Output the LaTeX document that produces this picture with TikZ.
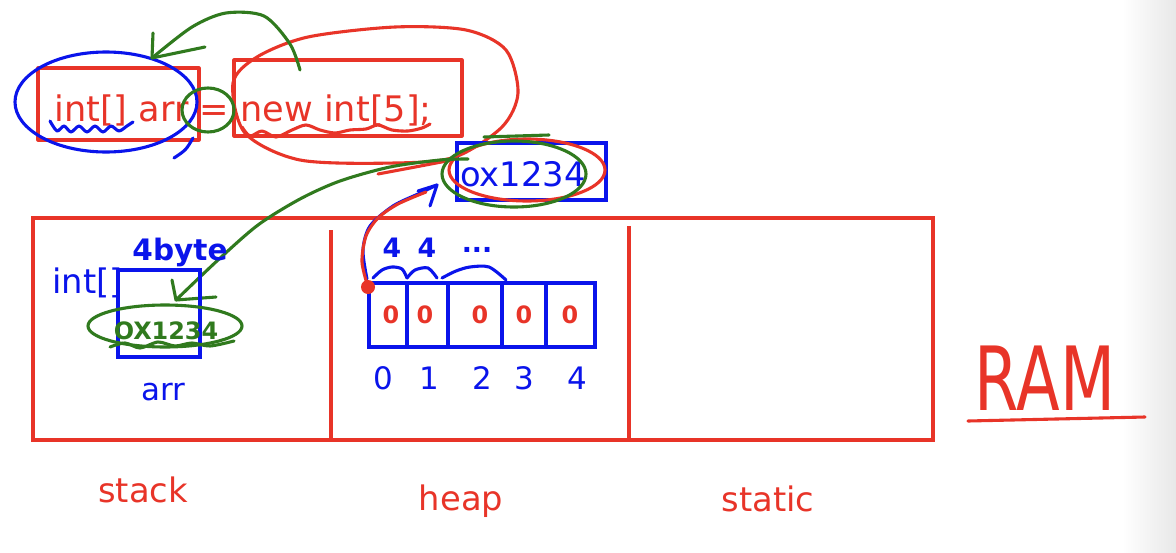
\documentclass[tikz,border=0pt]{standalone}
\usepackage{fontspec}
\setmainfont{DejaVu Sans}
\usetikzlibrary{calc}

\definecolor{penred}{RGB}{232,52,40}
\definecolor{penblue}{RGB}{10,20,235}
\definecolor{pengreen}{RGB}{48,122,30}

\begin{document}
\begin{tikzpicture}[
    x=0.025cm, y=-0.025cm,
    pen/.style={line width=2.2pt, line cap=round, line join=round},
    red pen/.style={pen, penred},
    blue pen/.style={pen, penblue},
    green pen/.style={pen, pengreen},
    frame line/.style={line width=2.2pt, penred},
    typed/.style={inner sep=0pt, font=\fontsize{24}{28}\selectfont},
    scribble/.style={inner sep=0pt, font=\fontsize{#1}{#1}\selectfont},
    scribble/.default=20,
    bold scribble/.style={inner sep=0pt, font=\fontsize{#1}{#1}\selectfont\bfseries},
    bold scribble/.default=20,
]

\useasboundingbox (0,0) rectangle (1176,552);
\fill[white] (0,0) rectangle (1176,552);
\shade[left color=white, right color=black!9] (1122,0) rectangle (1176,552);

% =============================================================================
% Memory: stack | heap | static
% =============================================================================
\draw[frame line] (33,218) rectangle (933,440);
\draw[frame line] (331,230) -- (331,440);
\draw[frame line] (629,226) -- (629,440);

\node[typed, text=penred, anchor=base] (stacklbl)  at (143,502) {stack};
\node[typed, text=penred, anchor=base] (heaplbl)   at (461,510) {heap};
\node[typed, text=penred, anchor=base] (staticlbl) at (768,511) {static};

% --- RAM ---
\node[text=penred, inner sep=0pt] (ramlbl) at (1045,378)
    {\scalebox{0.72}[1]{\fontsize{63}{70}\selectfont RAM}};
\draw[red pen] (968,421) -- (1145,417);

% =============================================================================
% The statement
% =============================================================================
\node[typed, text=penred, anchor=base west, font=\fontsize{25}{29}\selectfont]
    (code) at (54,121) {int[] arr = new int[5];};

% --- boxes round both sides ---
\draw[red pen] (38,68) rectangle (199,140);
\draw[red pen] (234,60) rectangle (462,136);

% --- left side ---
\draw[blue pen] (106,102) ellipse [x radius=91, y radius=50];
\draw[blue pen] (174,158) .. controls (186,150) .. (193,138);
\draw[blue pen] plot[smooth] coordinates {(50,121) (57,131) (64,126) (71,132)
    (79,126) (87,132) (95,126) (103,132) (111,126) (119,131) (127,126) (133,122)};

% --- right side ---
\draw[red pen] plot[smooth] coordinates {(242,127) (250,136) (262,131) (276,137)
    (292,130) (306,125) (320,130) (335,133) (350,130) (366,129) (378,125)
    (392,130) (408,131) (422,128) (430,124)};
\draw[red pen] plot[smooth cycle] coordinates {(233,83) (245,133) (300,160)
    (395,163) (455,157) (502,127) (518,93) (506,50) (466,30) (395,27)
    (308,37) (257,57)};

% --- the "=" ---
\draw[green pen] (208,110) ellipse [x radius=26, y radius=22];

% --- right side goes into the left side ---
\coordinate (rhstop) at (300,70);
\coordinate (lhstip) at (152,58);
\draw[green pen] plot[smooth] coordinates {(rhstop) (290,44) (264,16) (226,13)
    (192,27) (lhstip)};
\draw[green pen] (153,33) -- (lhstip) -- (205,47);

% =============================================================================
% The address
% =============================================================================
\node[draw=penblue, line width=2.2pt, inner sep=0pt,
      minimum width=149*0.025cm, minimum height=57*0.025cm]
    (addr) at (531.5,171.5) {};
\node[typed, text=penblue, anchor=base west] (addrtxt) at (460,186) {ox1234};

\draw[red pen] (378,174) .. controls (410,168) .. (452,160);
\draw[red pen] (527,170) ellipse [x radius=78, y radius=31];
\draw[green pen] (514,174) ellipse [x radius=72, y radius=33];
\draw[green pen] (484,137) -- (549,135);

% --- address copied into the stack slot ---
\coordinate (addrleft) at (468,159);
\coordinate (slottip) at (176,300);
\draw[green pen] plot[smooth] coordinates {(addrleft) (440,160) (390,167)
    (340,181) (300,199) (258,225) (218,260) (slottip)};
\draw[green pen] (172,280) -- (slottip) -- (216,297);

% =============================================================================
% Stack
% =============================================================================
\node[typed, text=penblue, anchor=base west] (typelbl) at (52,293) {int[]};
\node[draw=penblue, line width=2.2pt, inner sep=0pt,
      minimum width=82*0.025cm, minimum height=87*0.025cm]
    (slot) at (159,313.5) {};
\node[typed, text=penblue, anchor=base, font=\fontsize{22}{26}\selectfont]
    (varlbl) at (163,400) {arr};
\node[bold scribble=21, text=penblue, anchor=base] (sizelbl) at (180,260) {4byte};

\node[bold scribble=17, text=pengreen, anchor=base] (slotval) at (166,339) {OX1234};
\draw[green pen] (165,326) ellipse [x radius=77, y radius=21];
\draw[green pen] plot[smooth] coordinates {(110,347) (125,343) (140,348)
    (158,342) (175,346) (192,343) (210,346) (234,341)};

% =============================================================================
% Heap
% =============================================================================
\foreach \l/\r/\zx [count=\i from 0] in
        {369/407/391, 407/448/425, 448/502/480, 502/546/524, 546/595/570} {
    \draw[blue pen, line join=miter] (\l,283) rectangle (\r,347);
    \node[bold scribble=17, text=penred] (zero\i) at (\zx,315) {0};
}
\foreach \xi [count=\i from 0] in {383,429,482,524,577}
    \node[scribble=22, text=penblue] (idx\i) at (\xi,378) {\i};

% --- cell sizes ---
\draw[blue pen] plot[smooth] coordinates {(373,278) (382,270) (392,267)
    (402,269) (407,278)};
\draw[blue pen] plot[smooth] coordinates {(407,278) (415,270) (428,268)
    (437,278)};
\draw[blue pen] plot[smooth] coordinates {(442,278) (456,271) (470,267)
    (489,267) (506,280)};
\node[bold scribble=19, text=penblue] (w0) at (392,248) {4};
\node[bold scribble=19, text=penblue] (w1) at (427,248) {4};
\node[bold scribble=19, text=penblue] (wdots) at (477,250) {...};

% --- start of the array points at the address ---
\coordinate (heapstart) at (368,287);
\coordinate (addrtip) at (437,185);
\draw[blue pen] plot[smooth] coordinates {(367,279) (363,250) (370,226)
    (393,206) (418,194) (addrtip)};
\draw[blue pen] (418,191) -- (addrtip) -- (430,206);
\draw[red pen] plot[smooth] coordinates {(heapstart) (362,262) (366,236)
    (378,218) (398,204) (426,192)};
\fill[penred] (heapstart) circle (7);

\end{tikzpicture}
\end{document}
